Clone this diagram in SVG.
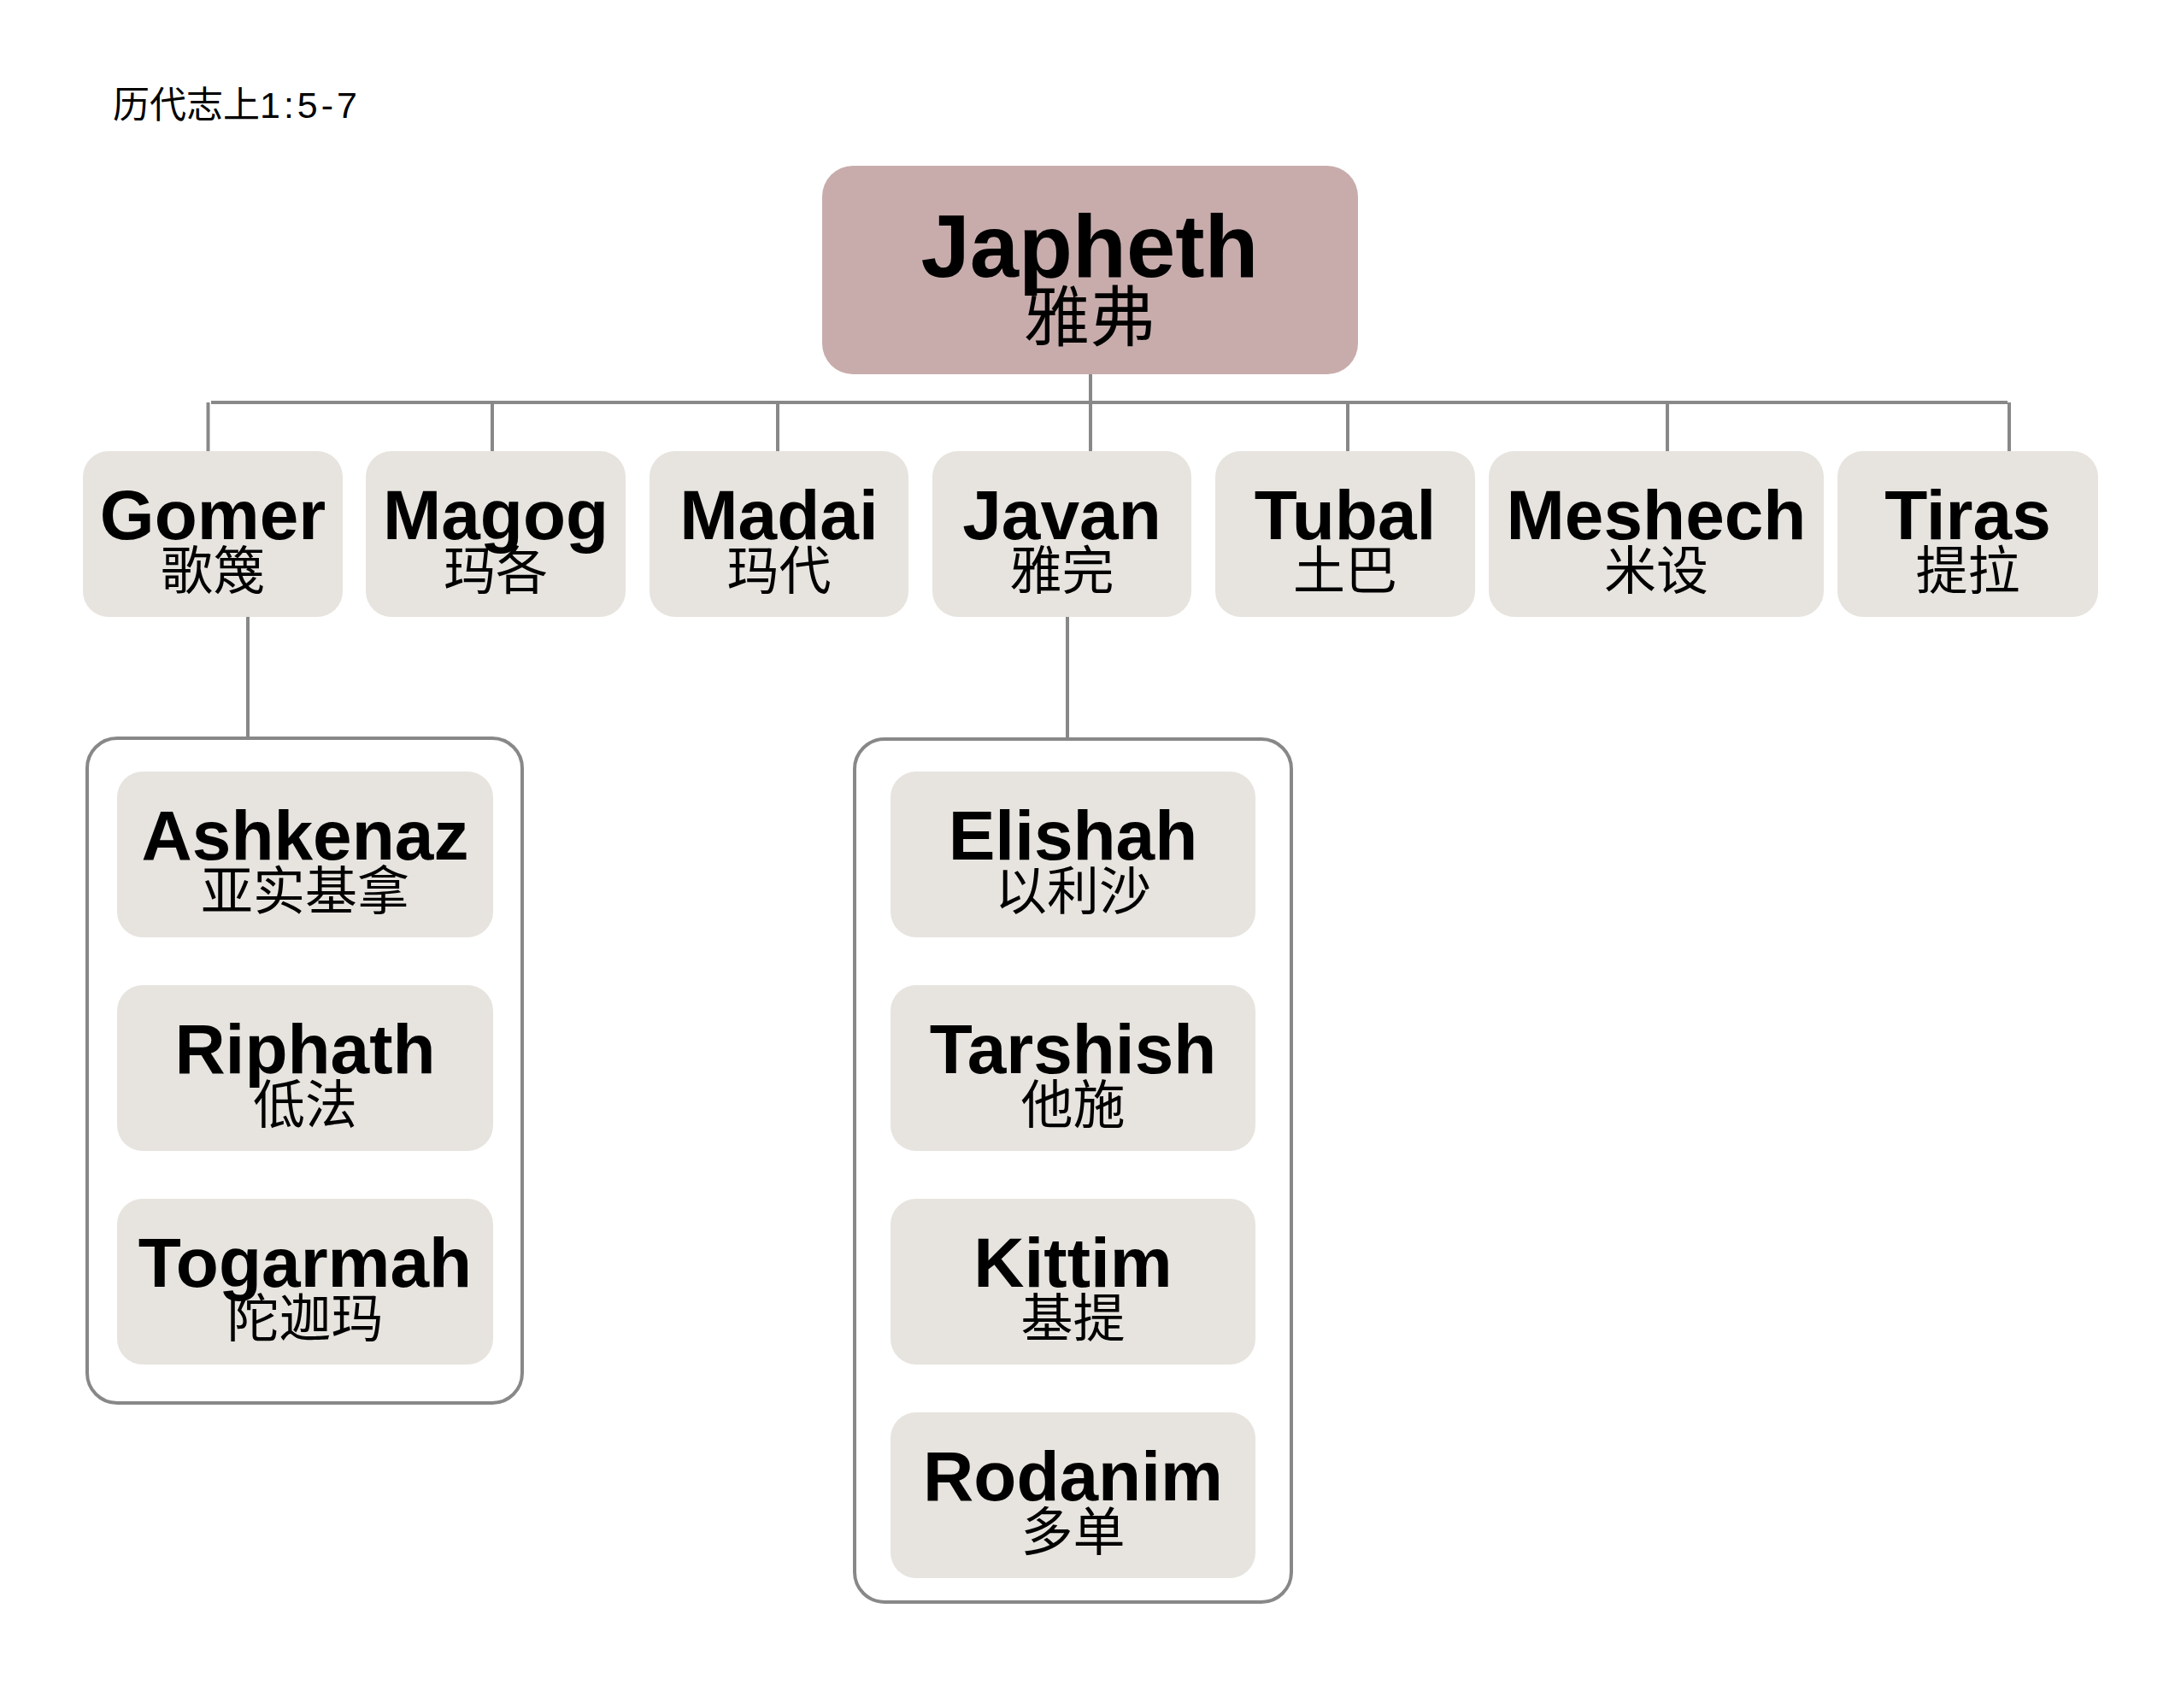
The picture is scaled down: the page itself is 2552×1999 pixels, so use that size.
<svg xmlns="http://www.w3.org/2000/svg" width="2552" height="1999" viewBox="0 0 2552 1999">
<style>
.bg{fill:#ffffff}
.node{fill:#E7E4DF}
.root{fill:#C8ACAC}
.cont{fill:#ffffff;stroke:#888888;stroke-width:4}
.ln{stroke:#888888;stroke-width:4;fill:none}
.en{font-family:"Liberation Sans",Arial,sans-serif;font-weight:bold;font-size:82px;fill:#000;text-anchor:middle}
.zh{font-family:"Noto Sans CJK SC","Liberation Sans",sans-serif;font-size:61px;fill:#000;text-anchor:middle}
.title{font-family:"Liberation Sans","Noto Sans CJK SC",sans-serif;font-size:43px;fill:#000}
</style>
<rect class="bg" x="0" y="0" width="2552" height="1999"/>
<text class="title" x="132" y="138">历代志上<tspan letter-spacing="4">1:5-7</tspan></text>

<g id="connectors">
  <line class="ln" x1="1276" y1="438" x2="1276" y2="471"/>
  <line class="ln" x1="247" y1="471" x2="2349" y2="471"/>
  <line class="ln" x1="243.5" y1="471" x2="243.5" y2="528"/>
  <line class="ln" x1="576" y1="471" x2="576" y2="528"/>
  <line class="ln" x1="910" y1="471" x2="910" y2="528"/>
  <line class="ln" x1="1276" y1="471" x2="1276" y2="528"/>
  <line class="ln" x1="1577" y1="471" x2="1577" y2="528"/>
  <line class="ln" x1="1951" y1="471" x2="1951" y2="528"/>
  <line class="ln" x1="2351" y1="471" x2="2351" y2="528"/>
  <line class="ln" x1="290" y1="722" x2="290" y2="864"/>
  <line class="ln" x1="1249" y1="722" x2="1249" y2="865"/>
</g>

<g id="japheth">
  <rect class="root" x="962" y="194" width="627" height="244" rx="36" ry="36"/>
  <text class="en" x="1275" y="324" style="font-size:103px">Japheth</text>
  <text class="zh" x="1275" y="399" style="font-size:77px">雅弗</text>
</g>

<g id="gomer">
  <rect class="node" x="97" y="528" width="304" height="194" rx="30" ry="30"/>
  <text class="en" x="249" y="631">Gomer</text>
  <text class="zh" x="249" y="690">歌篾</text>
</g>
<g id="magog">
  <rect class="node" x="428" y="528" width="304" height="194" rx="30" ry="30"/>
  <text class="en" x="580" y="631">Magog</text>
  <text class="zh" x="580" y="690">玛各</text>
</g>
<g id="madai">
  <rect class="node" x="760" y="528" width="303" height="194" rx="30" ry="30"/>
  <text class="en" x="911.5" y="631">Madai</text>
  <text class="zh" x="911.5" y="690">玛代</text>
</g>
<g id="javan">
  <rect class="node" x="1091" y="528" width="303" height="194" rx="30" ry="30"/>
  <text class="en" x="1242.5" y="631">Javan</text>
  <text class="zh" x="1242.5" y="690">雅完</text>
</g>
<g id="tubal">
  <rect class="node" x="1422" y="528" width="304" height="194" rx="30" ry="30"/>
  <text class="en" x="1574" y="631">Tubal</text>
  <text class="zh" x="1574" y="690">土巴</text>
</g>
<g id="meshech">
  <rect class="node" x="1742" y="528" width="392" height="194" rx="30" ry="30"/>
  <text class="en" x="1938" y="631">Meshech</text>
  <text class="zh" x="1938" y="690">米设</text>
</g>
<g id="tiras">
  <rect class="node" x="2150" y="528" width="305" height="194" rx="30" ry="30"/>
  <text class="en" x="2302.5" y="631">Tiras</text>
  <text class="zh" x="2302.5" y="690">提拉</text>
</g>

<g id="gomer-sons">
  <rect class="cont" x="102" y="864" width="509" height="778" rx="35" ry="35"/>
  <g id="ashkenaz">
    <rect class="node" x="137" y="903" width="440" height="194" rx="30" ry="30"/>
    <text class="en" x="357" y="1006">Ashkenaz</text>
    <text class="zh" x="357" y="1065">亚实基拿</text>
  </g>
  <g id="riphath">
    <rect class="node" x="137" y="1153" width="440" height="194" rx="30" ry="30"/>
    <text class="en" x="357" y="1256">Riphath</text>
    <text class="zh" x="357" y="1315">低法</text>
  </g>
  <g id="togarmah">
    <rect class="node" x="137" y="1403" width="440" height="194" rx="30" ry="30"/>
    <text class="en" x="357" y="1506">Togarmah</text>
    <text class="zh" x="357" y="1565">陀迦玛</text>
  </g>
</g>

<g id="javan-sons">
  <rect class="cont" x="1000" y="865" width="511" height="1010" rx="35" ry="35"/>
  <g id="elishah">
    <rect class="node" x="1042" y="903" width="427" height="194" rx="30" ry="30"/>
    <text class="en" x="1255.5" y="1006">Elishah</text>
    <text class="zh" x="1255.5" y="1065">以利沙</text>
  </g>
  <g id="tarshish">
    <rect class="node" x="1042" y="1153" width="427" height="194" rx="30" ry="30"/>
    <text class="en" x="1255.5" y="1256">Tarshish</text>
    <text class="zh" x="1255.5" y="1315">他施</text>
  </g>
  <g id="kittim">
    <rect class="node" x="1042" y="1403" width="427" height="194" rx="30" ry="30"/>
    <text class="en" x="1255.5" y="1506">Kittim</text>
    <text class="zh" x="1255.5" y="1565">基提</text>
  </g>
  <g id="rodanim">
    <rect class="node" x="1042" y="1653" width="427" height="194" rx="30" ry="30"/>
    <text class="en" x="1255.5" y="1756">Rodanim</text>
    <text class="zh" x="1255.5" y="1815">多单</text>
  </g>
</g>
</svg>
